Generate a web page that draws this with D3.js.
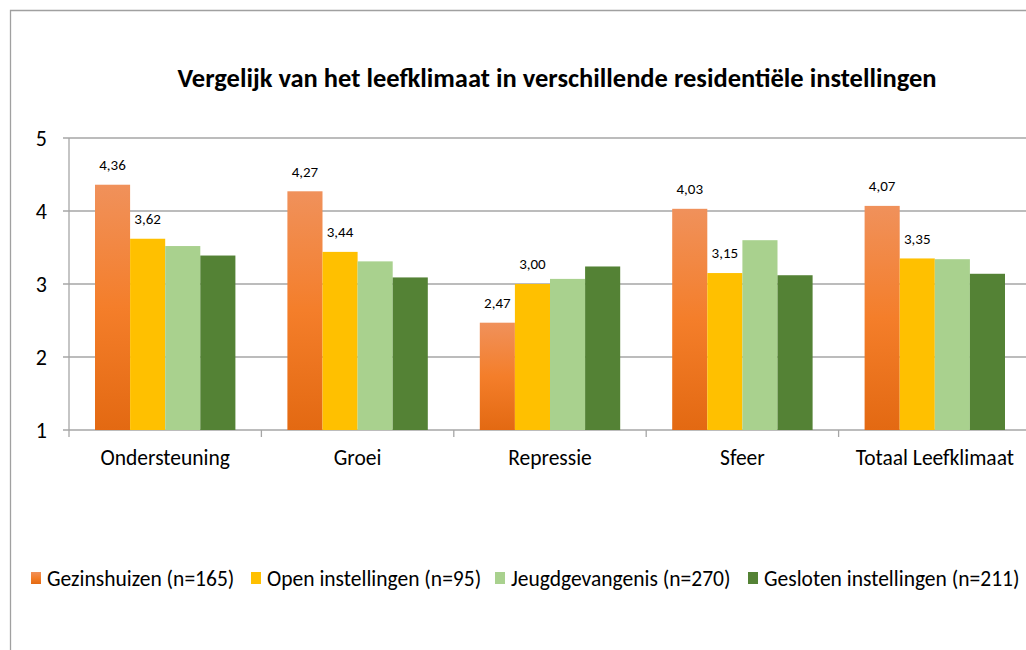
<!DOCTYPE html>
<html>
<head>
<meta charset="utf-8">
<title>Vergelijk leefklimaat</title>
<style>
body { margin: 0; background: #fff; }
svg text { font-family: Carlito, Calibri, 'Open Sans', sans-serif; fill: #000; }
.grid line { stroke: #a6a6a6; stroke-width: 1.3; }
.y_axis text { font-size: 22px; }
.x_axis text { font-size: 21.5px; }
.vlabel { font-size: 15px; }
.legend text { font-size: 21.5px; }
</style>
<script src="https://d3js.org/d3.v7.min.js"></script>
</head>
<body>
<div id="chart"></div>
<script>
var categories = ["Ondersteuning", "Groei", "Repressie", "Sfeer", "Totaal Leefklimaat"];
var seriesNames = ["Gezinshuizen (n=165)", "Open instellingen (n=95)", "Jeugdgevangenis (n=270)", "Gesloten instellingen (n=211)"];
var gezinshuizen = [4.36, 4.27, 2.47, 4.03, 4.07];
var openInst = [3.62, 3.44, 3.00, 3.15, 3.35];
var jeugdgevangenis = [3.52, 3.31, 3.07, 3.60, 3.34];
var geslotenInst = [3.39, 3.09, 3.24, 3.12, 3.14];
var yTicks = [1, 2, 3, 4, 5];
var labelled = [true, true, false, false];

var W = 1026, H = 650;
var fill_colors = ["url(#orangeGrad)", "#ffc000", "#a9d18e", "#548235"];
var allSeries = [gezinshuizen, openInst, jeugdgevangenis, geslotenInst];

var svg = d3.select("#chart").append("svg")
  .attr("width", W).attr("height", H);

var defs = svg.append("defs");
var grad = defs.append("linearGradient").attr("id", "orangeGrad")
  .attr("x1", 0).attr("y1", 0).attr("x2", 0).attr("y2", 1);
grad.append("stop").attr("offset", "0%").attr("stop-color", "#f0915b");
grad.append("stop").attr("offset", "50%").attr("stop-color", "#f47e2a");
grad.append("stop").attr("offset", "100%").attr("stop-color", "#e36912");

// outer chart border
svg.append("path")
  .attr("d", "M10.5," + H + "V10.5H" + W)
  .attr("fill", "none").attr("stroke", "#a0a0a0").attr("stroke-width", 1.3);

svg.append("text")
  .attr("x", 557).attr("y", 87)
  .attr("text-anchor", "middle")
  .style("font-size", "26.5px").style("font-weight", "bold")
  .text("Vergelijk van het leefklimaat in verschillende residentiële instellingen");

var left = 69, bandW = 192.4;
var x = d3.scaleBand().domain(categories)
  .range([left, left + bandW * categories.length])
  .paddingInner(0).paddingOuter(0);
var x1 = d3.scaleBand().domain(d3.range(4))
  .range([26, bandW - 26]).padding(0);
var y = d3.scaleLinear().domain([1, 5]).range([430, 138]);

// gridlines
svg.append("g").attr("class", "grid")
  .selectAll("line").data(yTicks).enter().append("line")
  .attr("x1", left - 6).attr("x2", W)
  .attr("y1", function(d) { return y(d); })
  .attr("y2", function(d) { return y(d); });

// y axis
var yAxis = d3.axisLeft(y).tickValues(yTicks).tickSize(0).tickPadding(0)
  .tickFormat(d3.format("d"));
var yg = svg.append("g").attr("class", "y_axis")
  .attr("transform", "translate(" + (left - 22) + ",0)").call(yAxis);
yg.select(".domain").remove();
yg.selectAll("text").attr("dy", "0.35em");

svg.append("line")
  .attr("x1", left).attr("x2", left)
  .attr("y1", y(5)).attr("y2", y(1))
  .attr("stroke", "#a6a6a6").attr("stroke-width", 1.3);

// bars
var groups = svg.append("g").selectAll("g").data(categories).enter().append("g")
  .attr("transform", function(d) { return "translate(" + x(d) + ",0)"; });

groups.each(function(cat, ci) {
  var g = d3.select(this);
  allSeries.forEach(function(vals, si) {
    g.append("rect")
      .attr("x", x1(si))
      .attr("y", y(vals[ci]))
      .attr("width", x1.bandwidth())
      .attr("height", y(1) - y(vals[ci]))
      .attr("fill", fill_colors[si]);
    if (labelled[si]) {
      g.append("text").attr("class", "vlabel")
        .attr("x", x1(si) + x1.bandwidth() / 2)
        .attr("y", y(vals[ci]) - 20)
        .attr("dy", "0.35em")
        .attr("text-anchor", "middle")
        .text(d3.format(".2f")(vals[ci]).replace(".", ","));
    }
  });
});

// x axis labels and ticks
var xAxis = d3.axisBottom(x).tickSize(0).tickPadding(20);
var xg = svg.append("g").attr("class", "x_axis")
  .attr("transform", "translate(0," + y(1) + ")").call(xAxis);
xg.select(".domain").remove();
svg.append("g").selectAll("line")
  .data(d3.range(categories.length + 1)).enter().append("line")
  .attr("x1", function(i) { return left + i * bandW; })
  .attr("x2", function(i) { return left + i * bandW; })
  .attr("y1", y(1)).attr("y2", y(1) + 7)
  .attr("stroke", "#a6a6a6").attr("stroke-width", 1.3);

// legend
var legendX = [31, 251, 495, 748];
var lg = svg.append("g").attr("class", "legend")
  .selectAll("g").data(seriesNames).enter().append("g")
  .attr("transform", function(d, i) { return "translate(" + legendX[i] + ",578)"; });
lg.append("rect").attr("x", 0).attr("y", -6).attr("width", 10).attr("height", 12)
  .attr("fill", function(d, i) { return fill_colors[i]; });
lg.append("text").attr("x", 16).attr("dy", "0.35em").text(function(d) { return d; });
</script>
</body>
</html>
